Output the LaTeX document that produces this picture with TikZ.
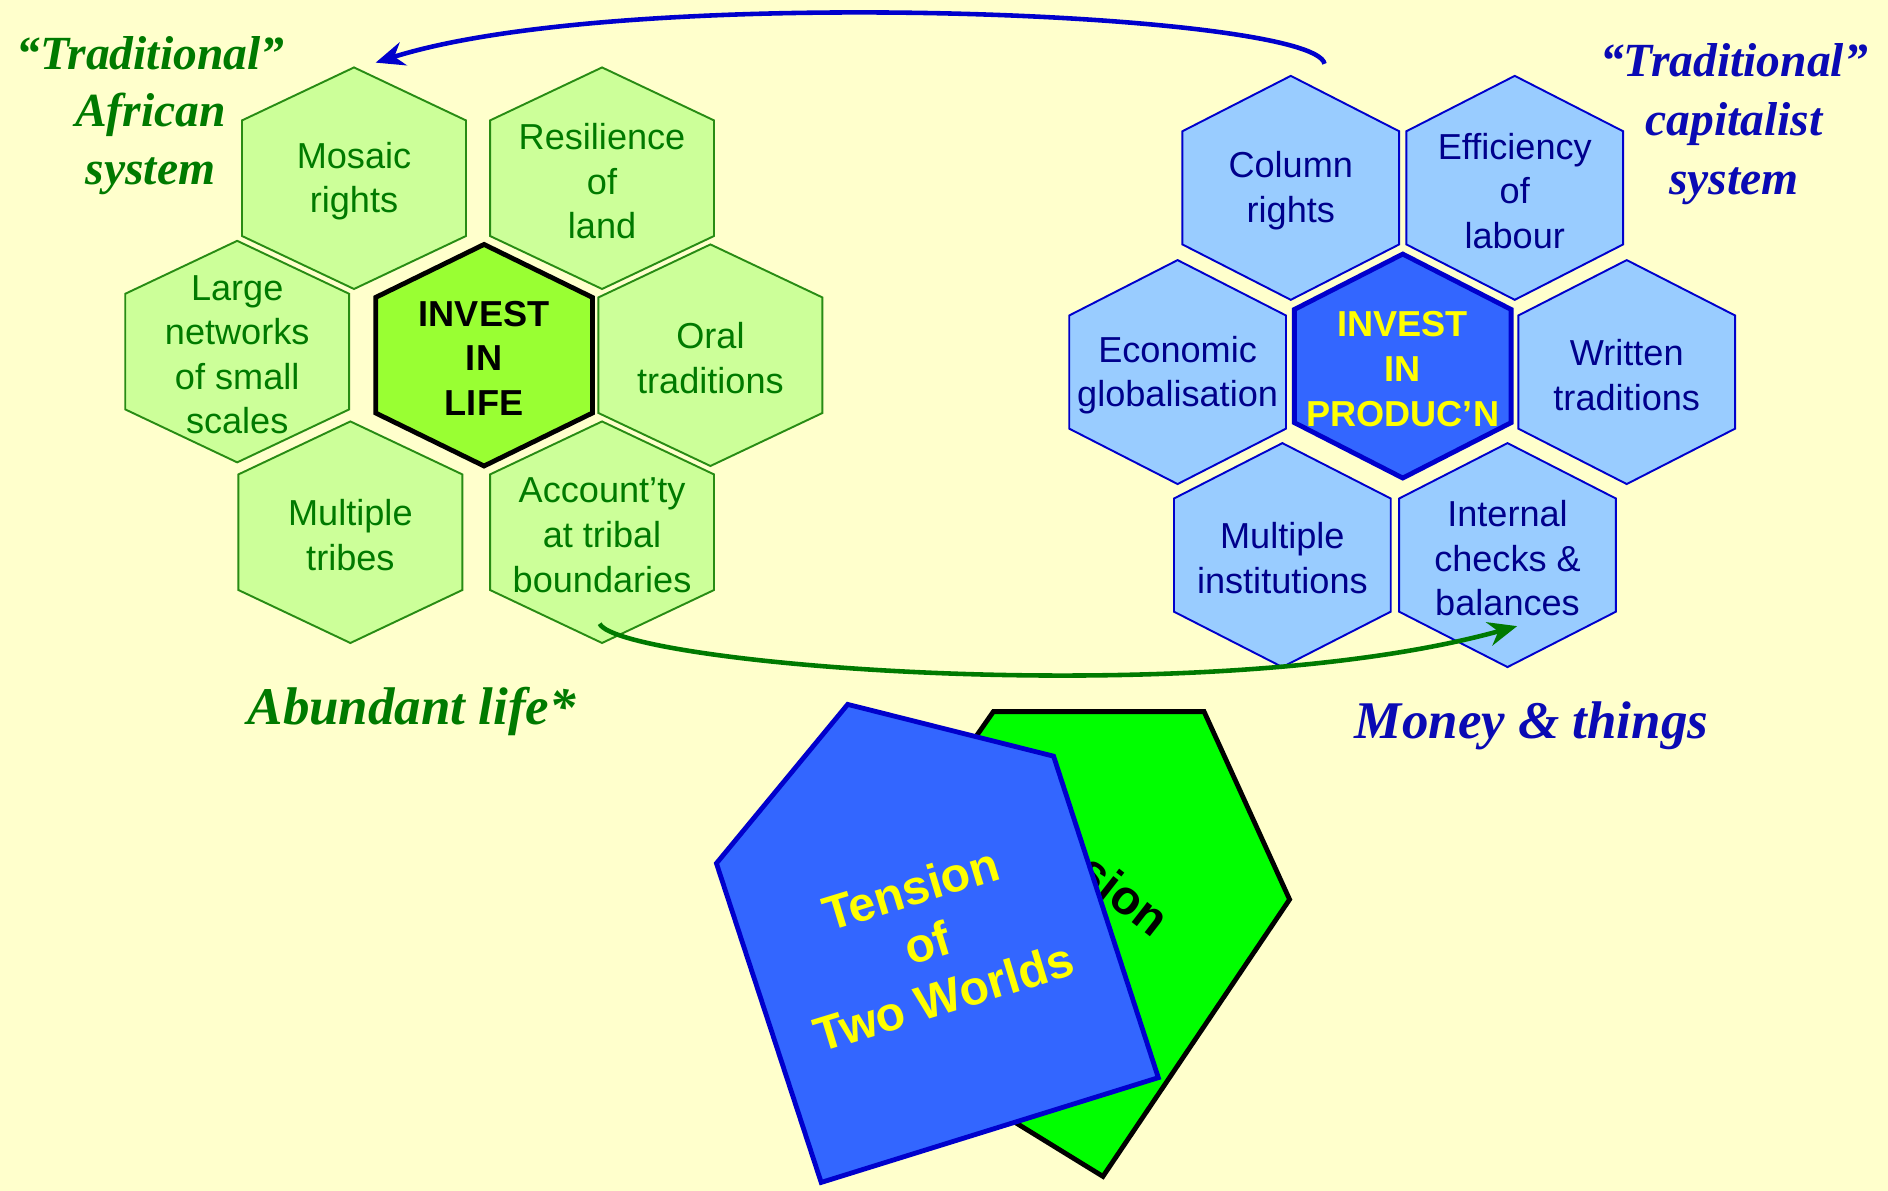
\documentclass[tikz,border=0pt]{standalone}
\usepackage{fontspec}
\setmainfont{Liberation Serif}
\newfontfamily\hexfont{Liberation Sans}
\usetikzlibrary{arrows.meta}
\definecolor{bg}{RGB}{255,255,204}
\definecolor{dgreen}{RGB}{0,122,0}
\definecolor{hexgfill}{RGB}{204,255,153}
\definecolor{hexgline}{RGB}{40,140,20}
\definecolor{lifefill}{RGB}{153,255,51}
\definecolor{hexbfill}{RGB}{153,204,255}
\definecolor{hexbline}{RGB}{0,0,204}
\definecolor{prodfill}{RGB}{51,102,255}
\definecolor{dblue}{RGB}{0,0,140}
\definecolor{tblue}{RGB}{10,10,180}
\definecolor{yel}{RGB}{255,255,0}
\definecolor{brightgreen}{RGB}{0,255,0}
\newcommand\hexcell[9]{%
  \draw[#7] ({#2},{#3-#5}) -- ({#2+#4},{#3-#6}) -- ({#2+#4},{#3+#6}) -- ({#2},{#3+#5}) -- ({#2-#4},{#3+#6}) -- ({#2-#4},{#3-#6}) -- cycle;
  \node[#8] (#1) at (#2,#3) {#9};}
\tikzset{
  hexg/.style={fill=hexgfill, draw=hexgline, line width=1.6pt, line join=miter},
  hexlife/.style={fill=lifefill, draw=black, line width=4pt, line join=miter},
  hexb/.style={fill=hexbfill, draw=hexbline, line width=1.6pt, line join=miter},
  hexprod/.style={fill=prodfill, draw=hexbline, line width=4pt, line join=miter},
  celltxt/.style={align=center, inner sep=0pt, yshift=-2.5pt},
  gtxt/.style={celltxt, text=dgreen, font=\hexfont\fontsize{30}{37}\selectfont},
  lifetxt/.style={celltxt, text=black, font=\hexfont\bfseries\fontsize{30}{37}\selectfont},
  btxt/.style={celltxt, text=dblue, font=\hexfont\fontsize{30}{37}\selectfont},
  prodtxt/.style={celltxt, text=yel, font=\hexfont\bfseries\fontsize{30}{37}\selectfont},
  titleg/.style={text=dgreen, align=center, inner sep=0pt, font=\bfseries\itshape\fontsize{39.5}{47.5}\selectfont},
  titleb/.style={text=tblue, align=center, inner sep=0pt, font=\bfseries\itshape\fontsize{39.5}{49}\selectfont},
  bigg/.style={text=dgreen, inner sep=0pt, font=\bfseries\itshape\fontsize{44}{50}\selectfont},
  bigb/.style={text=tblue, inner sep=0pt, font=\bfseries\itshape\fontsize{44}{50}\selectfont},
  barrow/.style={draw=hexbline, line width=3.8pt, -{Stealth[length=24pt,width=20pt]}},
  garrow/.style={draw=dgreen, line width=3.8pt, -{Stealth[length=24pt,width=20pt]}},
  tensiontxt/.style={align=center, inner sep=0pt, font=\hexfont\bfseries\fontsize{40}{47}\selectfont}
}
\begin{document}
\begin{tikzpicture}[x=1pt,y=-1pt]
\fill[bg] (0,0) rectangle (1568,989);
\useasboundingbox (0,0) rectangle (1568,989);

% left cluster
\hexcell{mosaic}{294}{148}{93}{92}{48}{hexg}{gtxt}{Mosaic\\rights}
\hexcell{resil}{500}{148}{93}{92}{48}{hexg}{gtxt}{Resilience\\of\\land}
\hexcell{large}{197}{292}{93}{92}{48}{hexg}{gtxt}{Large\\networks\\of small\\scales}
\hexcell{oral}{590}{295}{93}{92}{48}{hexg}{gtxt}{Oral\\traditions}
\hexcell{multt}{291}{442}{93}{92}{48}{hexg}{gtxt}{Multiple\\tribes}
\hexcell{acct}{500}{442}{93}{92}{48}{hexg}{gtxt}{Account’ty\\at tribal\\boundaries}
\hexcell{life}{402}{295}{90}{92}{48}{hexlife}{lifetxt}{INVEST\\IN\\LIFE}

% right cluster
\hexcell{column}{1072}{156}{90}{93}{47}{hexb}{btxt}{Column\\rights}
\hexcell{effic}{1258}{156}{90}{93}{47}{hexb}{btxt}{Efficiency\\of\\labour}
\hexcell{econ}{978}{309}{90}{93}{47}{hexb}{btxt}{Economic\\globalisation}
\hexcell{written}{1351}{309}{90}{93}{47}{hexb}{btxt}{Written\\traditions}
\hexcell{multi}{1065}{461}{90}{93}{47}{hexb}{btxt}{Multiple\\institutions}
\hexcell{internal}{1252}{461}{90}{93}{47}{hexb}{btxt}{Internal\\checks \&\\balances}
\hexcell{prod}{1165}{304}{90}{93}{47}{hexprod}{prodtxt}{INVEST\\IN\\PRODUC’N}

% titles
\node[titleg] (tradA) at (125,96) {“Traditional”\\African\\system};
\node[titleb] (tradC) at (1440,103) {“Traditional”\\capitalist\\system};
\node[bigg] (abund) at (342,591) {Abundant life*};
\node[bigb] (money) at (1272,603) {Money \& things};

% arrows
\coordinate (bstart) at (1100,53);
\coordinate (bend) at (312,52);
\draw[barrow] (bstart) .. controls (1092,10) and (520,-14) .. (bend);
\coordinate (gstart) at (498,518);
\coordinate (gend) at (1260,520);
\draw[garrow] (gstart) .. controls (515,552) and (1000,592) .. (gend);

% tension shapes
\draw[fill=brightgreen, draw=black, line width=4pt, line join=miter]
  (825,591) -- (1000,591) -- (1071,747) -- (916,977) -- (664,822) -- cycle;
\node[tensiontxt, text=black, rotate=-38] (tensG) at (878,759) {Tension\\of\\Two Worlds};
\draw[fill=prodfill, draw=hexbline, line width=4pt, line join=miter]
  (704,585) -- (875,628) -- (962,895) -- (682,982) -- (595,717) -- cycle;
\node[tensiontxt, text=yel, rotate=17] (tensB) at (770,783) {Tension\\of\\Two Worlds};
\end{tikzpicture}
\end{document}
